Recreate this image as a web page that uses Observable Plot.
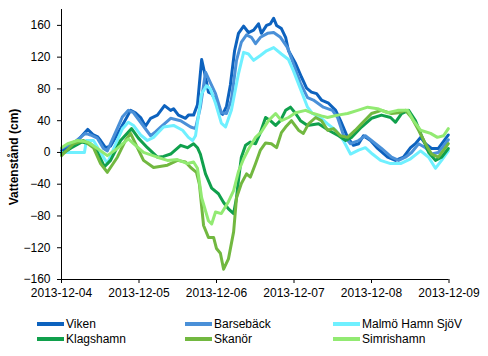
<!DOCTYPE html>
<html>
<head>
<meta charset="utf-8">
<script src="https://cdn.jsdelivr.net/npm/d3@7"></script>
<script src="https://cdn.jsdelivr.net/npm/@observablehq/plot@0.6"></script>
<style>
  html, body { margin: 0; padding: 0; background: #fff; }
  #wrap { position: relative; width: 488px; height: 356px; font-family: "Liberation Sans", Arial, sans-serif; }
  #ytitle { position: absolute; left: 14px; top: 157px; transform: translate(-50%, -50%) rotate(-90deg); font-weight: bold; font-size: 12px; white-space: nowrap; color: #000; }
  .leg { position: absolute; font-size: 12px; color: #000; white-space: nowrap; line-height: 14px; }
  .sw { position: absolute; height: 4px; }
</style>
</head>
<body>
<div id="wrap"></div>
<script>
// hours after 2013-12-04 00:00, water level (cm)
const viken = [[0,2],[4.3,12],[8.1,29],[9.9,22],[11.1,20],[12.1,15],[13.6,6],[15.2,8],[18.3,30],[21.4,53],[22.9,50],[24.5,44],[26.0,33],[27.6,43],[29.7,47],[31.9,59],[33.8,53],[34.7,55],[36.2,47],[38.4,43],[39.3,47],[40.9,47],[42.1,60],[43.4,117],[44.6,95],[45.5,76],[46.5,74],[47.7,66],[49.2,50],[49.9,48],[51.1,58],[52.3,85],[53.6,128],[54.8,150],[56.4,159],[57.9,151],[59.5,154],[61.0,162],[61.9,150],[63.5,160],[64.7,162],[65.7,169],[66.6,160],[68.1,156],[69.4,145],[70.3,128],[72.5,112],[74.3,95],[75.9,81],[77.4,76],[79.0,74],[80.5,66],[82.7,62],[84.9,53],[86.4,40],[88.6,19],[90.4,9],[92.0,11],[93.5,21],[95.7,15],[97.9,5],[101.0,-6],[103.4,-10],[105.9,-6],[108.1,6],[109.6,11],[111.2,19],[112.7,11],[114.6,5],[116.7,5],[119.8,22]];
const barseback = [[0,5],[4.3,14],[7.4,24],[9.0,22],[11.1,18],[13.0,5],[14.2,2],[16.7,25],[18.9,45],[20.7,53],[22.3,50],[24.5,38],[27.6,21],[29.1,26],[30.7,32],[33.8,43],[36.9,40],[40.0,32],[41.5,30],[43.0,57],[44.6,101],[46.1,88],[47.7,74],[49.5,50],[51.1,49],[52.6,66],[54.2,116],[55.7,139],[57.3,148],[58.8,145],[60.1,137],[61.6,145],[63.8,150],[65.7,151],[67.8,145],[70.0,132],[71.8,112],[74.0,87],[76.2,69],[78.0,66],[81.1,57],[83.9,53],[85.5,44],[87.3,22],[89.5,11],[92.0,15],[94.1,21],[96.0,15],[99.1,5],[102.2,-6],[104.4,-10],[106.5,-6],[108.4,0],[110.6,11],[112.7,6],[114.6,-2],[116.7,0],[119.8,16]];
const malmo = [[0,0],[7.1,0],[7.7,15],[9.9,15],[12.1,0],[14.2,-14],[16.7,10],[18.9,30],[20.7,38],[22.3,34],[24.5,22],[26.6,15],[28.5,19],[31.6,32],[34.7,34],[37.5,28],[39.3,19],[40.6,15],[41.5,21],[43.4,74],[44.9,84],[46.1,80],[47.7,62],[49.5,37],[50.8,32],[52.6,53],[54.8,99],[56.4,126],[57.9,124],[59.5,116],[61.6,122],[63.5,128],[65.7,132],[68.1,124],[70.3,117],[71.8,103],[74.0,80],[76.2,57],[77.7,49],[80.2,44],[82.4,36],[84.9,28],[87.3,15],[89.5,-2],[92.0,3],[94.1,6],[96.3,-2],[98.8,-10],[101.9,-14],[105.0,-14],[108.1,-8],[111.2,2],[113.7,-6],[115.8,-20],[117.7,-10],[119.8,2]];
const klagshamn = [[0,-2],[3.1,6],[6.2,13],[9.0,11],[10.5,5],[12.1,-8],[13.3,-18],[15.2,-10],[18.3,15],[21.7,30],[23.8,18],[26.6,6],[29.7,-6],[31.6,-5],[33.8,-2],[36.9,9],[39.0,6],[40.9,11],[42.1,6],[43.0,-2],[44.6,-27],[46.5,-45],[48.6,-52],[50.2,-63],[51.7,-71],[53.3,-77],[54.2,-57],[54.8,-35],[55.7,-6],[57.0,9],[58.5,13],[60.1,11],[61.6,25],[63.2,44],[64.7,40],[66.3,34],[67.8,40],[69.4,53],[70.9,57],[72.5,49],[74.0,40],[76.2,34],[79.6,36],[82.7,28],[85.8,21],[88.0,15],[89.8,19],[92.9,32],[96.0,43],[99.1,47],[101.9,44],[103.4,38],[105.3,49],[107.5,53],[109.6,40],[111.5,21],[113.7,0],[115.8,-10],[117.7,-6],[119.8,5]];
const skanor = [[0,-4],[3.7,11],[6.8,15],[9.9,6],[12.1,-14],[14.2,-25],[17.3,-6],[19.8,15],[21.4,24],[23.5,6],[25.4,-10],[28.5,-19],[32.8,-16],[35.9,-10],[38.4,-12],[40.0,-19],[41.8,-25],[42.7,-40],[44.0,-92],[45.5,-107],[47.1,-107],[48.0,-121],[49.2,-127],[50.2,-147],[51.7,-134],[53.3,-100],[54.2,-57],[55.7,-39],[57.3,-27],[58.5,-31],[60.1,-14],[61.6,3],[63.2,12],[65.0,11],[66.6,6],[68.1,25],[69.4,32],[71.2,40],[73.4,28],[74.9,24],[76.5,36],[78.7,44],[80.5,40],[82.4,28],[84.2,30],[86.4,21],[88.6,19],[91.0,28],[92.9,36],[96.0,49],[99.1,53],[102.2,49],[104.4,50],[106.5,53],[108.4,44],[110.6,28],[112.7,11],[114.6,-2],[116.7,-6],[119.8,11]];
const simrishamn = [[0,6],[1.9,11],[5.0,15],[8.1,13],[11.1,5],[14.2,-4],[17.3,5],[20.7,17],[22.3,11],[25.4,0],[29.7,-6],[32.8,-10],[35.9,-9],[39.0,-14],[40.9,-12],[42.1,-20],[43.4,-57],[45.5,-86],[46.5,-90],[47.7,-75],[49.5,-77],[51.7,-62],[53.3,-48],[54.8,-24],[56.4,-8],[57.9,4],[60.1,19],[61.9,26],[64.1,40],[66.3,49],[68.1,40],[70.3,44],[72.5,50],[75.6,53],[78.0,49],[80.5,46],[82.4,44],[85.5,47],[88.6,49],[91.7,53],[94.8,57],[97.9,55],[101.0,50],[104.1,53],[107.2,53],[109.0,40],[111.2,28],[114.3,24],[116.4,19],[118.3,21],[119.8,30]];

const seriesNames = ["Viken", "Barsebäck", "Malmö Hamn SjöV", "Klagshamn", "Skanör", "Simrishamn"];
const seriesColors = ["#0d62be", "#4a90d8", "#6ff0ff", "#10a04c", "#72b840", "#92ea72"];
const seriesData = [viken, barseback, malmo, klagshamn, skanor, simrishamn];
const xTickDays = ["2013-12-04", "2013-12-05", "2013-12-06", "2013-12-07", "2013-12-08", "2013-12-09"];
const yTicks = [-160, -120, -80, -40, 0, 40, 80, 120, 160];
const yDomain = [-160, 180];
const yTitle = "Vattenstånd (cm)";

const start = Date.UTC(2013, 11, 4);
const toDate = h => new Date(start + h * 3600e3);
const rows = seriesData.flatMap((pts, i) => pts.map(([h, v]) => ({name: seriesNames[i], t: toDate(h), v})));
const xTicks = xTickDays.map(s => new Date(s + "T00:00:00Z"));

const chart = Plot.plot({
  width: 488,
  height: 300,
  marginTop: 9,
  marginBottom: 21,
  marginLeft: 61,
  marginRight: 39.5,
  style: {fontFamily: '"Liberation Sans", Arial, sans-serif', fontSize: "12px", color: "#000", background: "#fff", overflow: "visible"},
  x: {type: "utc", domain: [xTicks[0], xTicks[xTicks.length - 1]]},
  y: {domain: yDomain},
  color: {domain: seriesNames, range: seriesColors},
  marks: [
    Plot.line(rows, {x: "t", y: "v", z: "name", stroke: "name", strokeWidth: 3, strokeLinejoin: "round", strokeLinecap: "round"}),
    Plot.ruleX([xTicks[0]], {stroke: "#000", strokeWidth: 1}),
    Plot.ruleY([yDomain[0]], {stroke: "#000", strokeWidth: 1}),
    Plot.axisX({ticks: xTicks, tickFormat: d3.utcFormat("%Y-%m-%d"), tickSize: 4, tickPadding: 5, label: null, stroke: "#000", fill: "#000"}),
    Plot.axisY({ticks: yTicks, tickSize: 4, tickPadding: 7, label: null, stroke: "#000", fill: "#000"})
  ]
});

const wrap = document.getElementById("wrap");
wrap.appendChild(chart);

const yt = document.createElement("div");
yt.id = "ytitle";
yt.textContent = yTitle;
wrap.appendChild(yt);

// legend
const legCols = [37, 185, 333];
const legRows = [324, 339];
seriesNames.forEach((name, i) => {
  const col = i % 3, row = Math.floor(i / 3);
  const sw = document.createElement("div");
  sw.className = "sw";
  sw.style.left = legCols[col] + "px";
  sw.style.width = "27px";
  sw.style.top = (legRows[row] - 2) + "px";
  sw.style.background = seriesColors[i];
  wrap.appendChild(sw);
  const t = document.createElement("div");
  t.className = "leg";
  t.style.left = (legCols[col] + 29) + "px";
  t.style.top = (legRows[row] - 7) + "px";
  t.textContent = name;
  wrap.appendChild(t);
});
</script>
</body>
</html>
